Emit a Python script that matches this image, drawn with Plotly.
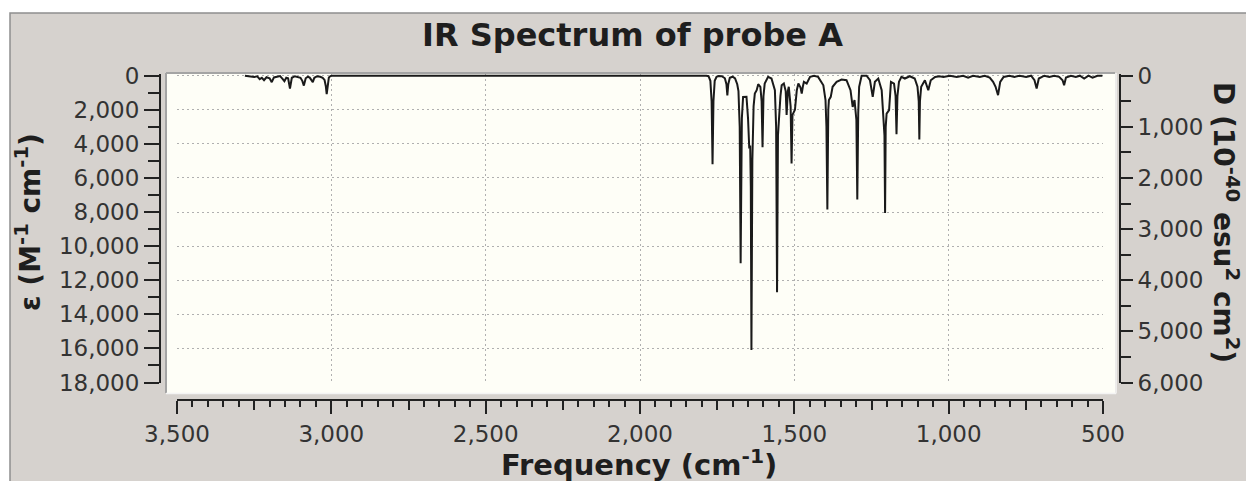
import plotly.graph_objects as go

# ---- data (frequency in cm-1, epsilon in M-1 cm-1) ----
freq = [3280, 3262, 3250, 3240, 3232, 3225, 3218, 3210, 3200, 3193, 3186, 3176, 3166, 3158, 3152,
        3146, 3140, 3134, 3128, 3118, 3108, 3100, 3094, 3089, 3083, 3076, 3070, 3064, 3060, 3055,
        3046, 3036, 3028, 3022, 3018, 3015, 3012, 3008, 3003, 2998,
        1785, 1778, 1772, 1768, 1765, 1762, 1758, 1752, 1745, 1735, 1725, 1720, 1717, 1714, 1709,
        1700, 1692, 1685, 1681, 1677, 1674, 1670, 1666, 1662, 1655, 1650, 1646, 1643, 1641, 1639,
        1636, 1632, 1628, 1622, 1617, 1610, 1606, 1603, 1600, 1596, 1585, 1574, 1563, 1559, 1556,
        1553, 1549, 1545, 1541, 1534, 1528, 1525, 1521, 1518, 1512, 1509, 1506, 1504, 1498, 1492,
        1487, 1480, 1476, 1472, 1469, 1460, 1449, 1436, 1423, 1406, 1399, 1396, 1393, 1390, 1388,
        1382, 1376, 1363, 1347, 1331, 1318, 1311, 1305, 1299, 1296, 1293, 1290, 1282, 1266, 1255,
        1246, 1239, 1228, 1217, 1212, 1208, 1206, 1204, 1201, 1193, 1187, 1177, 1172, 1169, 1166,
        1161, 1153, 1142, 1126, 1110, 1101, 1097, 1095, 1093, 1089, 1077, 1066, 1058, 1044, 1030,
        1017, 996, 974, 953, 937, 921, 899, 883, 867, 856, 848, 840, 833, 822, 803, 787, 770, 749,
        733, 722, 715, 708, 690, 674, 658, 642, 631, 626, 620, 604, 588, 575, 561, 547, 534, 518, 502]

eps = [0, 30, 80, 40, 200, 120, 260, 90, 150, 380, 100, 60, 20, 180, 320,
       120, 150, 760, 120, 30, 60, 120, 300, 580, 150, 60, 110, 250, 380, 120,
       30, 60, 120, 250, 600, 1080, 450, 100, 20, 0,
       0, 30, 300, 1500, 5200, 1500, 300, 60, 20, 30, 150, 500, 1150, 500, 120,
       60, 160, 500, 900, 3000, 11000, 2500, 1250, 1240, 1240, 2500, 4270, 4100, 6500, 16100,
       5000, 1800, 1050, 850, 500, 650, 1500, 4200, 1200, 460, 70, 165, 850, 3000, 12700,
       3500, 2000, 1200, 560, 460, 900, 2300, 900, 650, 1800, 5150, 2300, 2200, 2000, 850,
       460, 700, 1045, 600, 360, 460, 70, 0, 70, 560, 1430, 3000, 7850, 2000, 1430,
       1240, 650, 360, 225, 265, 850, 1830, 1430, 2600, 7260, 2200, 650, 0, 0, 265,
       1240, 360, 165, 850, 2020, 3500, 8050, 3000, 2220, 2020, 360, 460, 1200, 3430, 1200,
       360, 70, 165, 30, 165, 650, 1500, 3740, 1500, 650, 265, 850, 265, 70, 30,
       70, 0, 70, 0, 110, 0, 70, 0, 110, 360, 650, 1143, 360, 70, 0, 70, 0, 70,
       0, 265, 750, 165, 0, 70, 0, 70, 265, 560, 110, 0, 70, 0, 165, 0, 110, 0, 0]

x_ticks_major = 500
x_ticks_mid = 250
x_ticks_minor = 50
eps_range = [18000, -100]
d_range = [6000, -100 / 3]

title_text = "<b>IR Spectrum of probe A</b>"
x_title = "<b>Frequency (cm<sup>-1</sup>)</b>"
y_title = "<b>ε (M<sup>-1</sup> cm<sup>-1</sup>)</b>"
y2_title = "<b>D (10<sup>-40</sup> esu<sup>2</sup> cm<sup>2</sup>)</b>"

FONT = "DejaVu Sans"
TICKFONT = dict(family=FONT, size=23, color="#333333")
AXC = "#222222"
GRIDC = "#b0b0b0"

# pixel helpers (paper area: x 160..1120, y 74..400)
def px(xp):
    return (xp - 160) / 960.0

def py(yp):
    return (400 - yp) / 326.0

fig = go.Figure()
fig.add_trace(go.Scatter(x=freq, y=eps, mode="lines",
                         line=dict(color="#1a1a1a", width=2),
                         hoverinfo="skip", showlegend=False))
# invisible helper traces so the overlay axes are drawn
fig.add_trace(go.Scatter(x=freq, y=eps, xaxis="x2", yaxis="y", mode="lines",
                         line=dict(width=0), opacity=0, hoverinfo="skip", showlegend=False))
fig.add_trace(go.Scatter(x=freq, y=eps, xaxis="x", yaxis="y2", mode="lines",
                         line=dict(width=0), opacity=0, hoverinfo="skip", showlegend=False))

xdom = [px(177), px(1103)]
ydom = [py(382.5), 1.0]

fig.update_layout(
    width=1246, height=481,
    margin=dict(l=160, r=126, t=74, b=81, autoexpand=False),
    paper_bgcolor="white",
    plot_bgcolor="rgba(0,0,0,0)",
    font=dict(family=FONT, color="#222222"),
    xaxis=dict(domain=xdom, range=[3500, 500], anchor="free", position=0,
               showline=True, linecolor=AXC, linewidth=2,
               ticks="outside", ticklen=13, tickwidth=2, tickcolor=AXC,
               tick0=0, dtick=x_ticks_major, tickformat=",d", tickfont=TICKFONT,
               showgrid=True, gridcolor=GRIDC, gridwidth=1, griddash="2px,3px",
               zeroline=False,
               minor=dict(tick0=0, dtick=x_ticks_minor, ticks="outside", ticklen=6,
                          tickwidth=1.5, tickcolor=AXC, showgrid=False)),
    xaxis2=dict(overlaying="x", range=[3500, 500], anchor="free", position=0,
                ticks="outside", ticklen=9, tickwidth=1.5, tickcolor=AXC,
                tick0=0, dtick=x_ticks_mid, showticklabels=False,
                showgrid=False, showline=False, zeroline=False),
    yaxis=dict(domain=ydom, range=eps_range, anchor="free", position=0,
               showline=True, linecolor=AXC, linewidth=2,
               ticks="outside", ticklen=15, tickwidth=2, tickcolor=AXC,
               tick0=0, dtick=2000, tickformat=",d", tickfont=TICKFONT,
               showgrid=True, gridcolor=GRIDC, gridwidth=1, griddash="2px,3px",
               zeroline=False,
               minor=dict(tick0=0, dtick=1000, ticks="outside", ticklen=11,
                          tickwidth=1.5, tickcolor=AXC, showgrid=False)),
    yaxis2=dict(overlaying="y", side="right", range=d_range, anchor="free", position=1,
                showline=True, linecolor=AXC, linewidth=2,
                ticks="outside", ticklen=12, tickwidth=2, tickcolor=AXC,
                tick0=0, dtick=1000, tickformat=",d", tickfont=TICKFONT,
                showgrid=False, zeroline=False,
                minor=dict(tick0=0, dtick=500, ticks="outside", ticklen=10,
                           tickwidth=1.5, tickcolor=AXC, showgrid=False)),
    shapes=[
        dict(type="rect", xref="paper", yref="paper", layer="below",
             x0=px(10), x1=px(1260), y0=py(495), y1=py(13),
             fillcolor="#d6d2ce", line=dict(color="#8f8f8f", width=1.5)),
        dict(type="rect", xref="paper", yref="paper", layer="below",
             x0=px(167), x1=px(1115), y0=py(393), y1=py(73),
             fillcolor="#fefef7", line=dict(width=0)),
        dict(type="line", xref="paper", yref="paper", layer="below",
             x0=px(166), x1=px(1115), y0=py(73), y1=py(73),
             line=dict(color="#a4a4a4", width=2)),
        dict(type="line", xref="paper", yref="paper", layer="below",
             x0=px(166), x1=px(166), y0=py(393), y1=py(73),
             line=dict(color="#a4a4a4", width=2)),
        dict(type="line", xref="paper", yref="paper", layer="below",
             x0=px(166), x1=px(1116), y0=py(393.5), y1=py(393.5),
             line=dict(color="#f4f4f4", width=1.5)),
        dict(type="line", xref="paper", yref="paper", layer="below",
             x0=px(1116), x1=px(1116), y0=py(393.5), y1=py(73),
             line=dict(color="#f4f4f4", width=1.5)),
    ],
    annotations=[
        dict(text=title_text, xref="paper", yref="paper", x=px(632), y=py(35),
             xanchor="center", yanchor="middle", showarrow=False,
             font=dict(family=FONT, size=32, color="#1e1e1e")),
        dict(text=x_title, xref="paper", yref="paper", x=px(639), y=py(463),
             xanchor="center", yanchor="middle", showarrow=False,
             font=dict(family=FONT, size=29, color="#1e1e1e")),
        dict(text=y_title, xref="paper", yref="paper", x=px(28), y=py(222),
             xanchor="center", yanchor="middle", showarrow=False, textangle=-90,
             font=dict(family=FONT, size=28, color="#1e1e1e")),
        dict(text=y2_title, xref="paper", yref="paper", x=px(1226), y=py(222),
             xanchor="center", yanchor="middle", showarrow=False, textangle=90,
             font=dict(family=FONT, size=28, color="#1e1e1e")),
    ],
)

fig.write_html("out.html")
